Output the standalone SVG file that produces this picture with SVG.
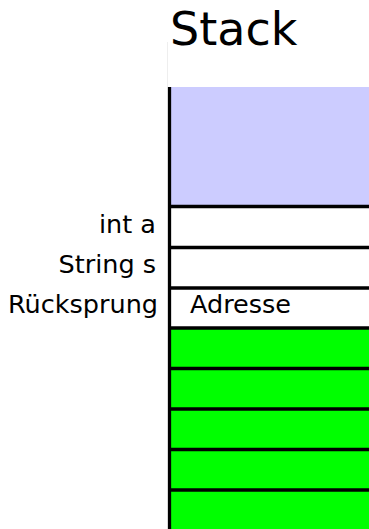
<svg xmlns="http://www.w3.org/2000/svg" width="369" height="529" viewBox="0 0 369 529">
<style>
text{font-family:"DejaVu Sans",sans-serif;fill:#000}
.lbl{font-size:25.5px;text-anchor:end}
.sep{stroke:#000;stroke-width:3.3}
.green{fill:#00ff00}
</style>
<rect width="369" height="529" fill="#fff"/>
<g id="title"><text x="170" y="45" style="font-size:46px">Stack</text></g>
<line x1="167.5" y1="42" x2="167.5" y2="87" stroke="#eee" stroke-width="1"/>
<g id="free"><rect x="170" y="87" width="199" height="119.5" fill="#ccccff"/></g>
<g id="int-a"><text class="lbl" x="156" y="233">int a</text></g>
<g id="string-s"><text class="lbl" x="156" y="273">String s</text></g>
<g id="ruecksprung"><text class="lbl" x="158" y="313">Rücksprung</text><text x="190" y="313" style="font-size:25.5px">Adresse</text></g>
<g id="frames">
<rect class="green" x="170" y="328" width="199" height="201"/>
</g>
<g id="lines">
<line class="sep" x1="169.5" y1="87" x2="169.5" y2="529"/>
<line class="sep" x1="169" y1="206.5" x2="369" y2="206.5"/>
<line class="sep" x1="169" y1="247.5" x2="369" y2="247.5"/>
<line class="sep" x1="169" y1="288" x2="369" y2="288"/>
<line class="sep" x1="169" y1="328" x2="369" y2="328"/>
<line class="sep" x1="169" y1="368.5" x2="369" y2="368.5"/>
<line class="sep" x1="169" y1="409" x2="369" y2="409"/>
<line class="sep" x1="169" y1="449.5" x2="369" y2="449.5"/>
<line class="sep" x1="169" y1="490" x2="369" y2="490"/>
</g>
</svg>
